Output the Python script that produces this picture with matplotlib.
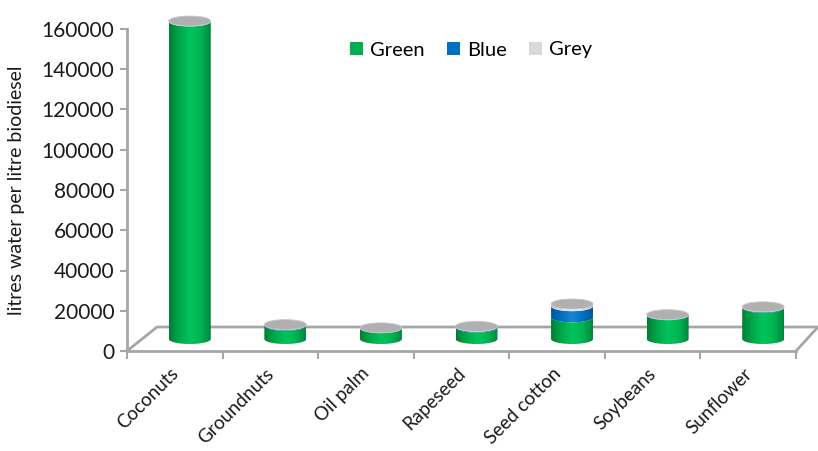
import matplotlib.pyplot as plt
import numpy as np
import matplotlib.transforms as mtransforms
from matplotlib.patches import Polygon, Ellipse, Patch
from matplotlib.colors import LinearSegmentedColormap

# data
crops = ['Coconuts', 'Groundnuts', 'Oil palm', 'Rapeseed', 'Seed cotton', 'Soybeans', 'Sunflower']
green = [157800, 6600, 5450, 5700, 10800, 11850, 15500]
blue = [0, 350, 50, 400, 5500, 200, 350]
grey = [200, 200, 50, 200, 1100, 50, 150]
series_names = ['Green', 'Blue', 'Grey']
yticks = [0, 20000, 40000, 60000, 80000, 100000, 120000, 140000, 160000]

plt.rcParams['font.family'] = ['Lato', 'DejaVu Sans']

fig = plt.figure(figsize=(8.18, 4.51), dpi=100)
W, H = 818, 451
x0, x1, y0, y1 = 127, 796, 351, 29
ax = fig.add_axes([x0 / W, (H - y0) / H, (x1 - x0) / W, (y0 - y1) / H])
ax.set_xlim(-0.5, 6.5)
ax.set_ylim(0, 160000)

# pixel -> data helpers for the fake 3D depth
px_x = 7.0 / (x1 - x0)
px_y = 160000.0 / (y0 - y1)

floor_col = '#a6a6a6'
back_y = 24 * px_y
ax.plot([-0.5, -0.5 + 30 * px_x, 6.5 + 22 * px_x, 6.5], [0, back_y, back_y, 0],
        color=floor_col, lw=2, clip_on=False, zorder=1)

cmaps = {
    'Green': LinearSegmentedColormap.from_list('g', ['#007d37', '#00a84b', '#00c45b', '#00b553', '#00873c']),
    'Blue': LinearSegmentedColormap.from_list('b', ['#00579a', '#006fbe', '#1a86d6', '#0070c0', '#005696']),
    'Grey': LinearSegmentedColormap.from_list('k', ['#bdbdbd', '#dcdcdc', '#f2f2f2', '#e0e0e0', '#bababa']),
}
legend_cols = {'Green': '#00b050', 'Blue': '#0070c0', 'Grey': '#d9d9d9'}

shift = 15 * px_x
half_w = 21 * px_x
ry = 5 * px_y
base = 12 * px_y
t = np.linspace(np.pi, 2 * np.pi, 60)
grad = np.linspace(0, 1, 256).reshape(1, -1)


def lower_half(xc, yc):
    return np.column_stack([xc + half_w * np.cos(t), yc + ry * np.sin(t)])


for i, crop in enumerate(crops):
    xc = i + shift
    bottom = base
    for name, vals in zip(series_names, [green, blue, grey]):
        v = vals[i]
        if v <= 0:
            continue
        top = bottom + v
        pts = np.vstack([lower_half(xc, bottom), lower_half(xc, top)[::-1]])
        poly = Polygon(pts, closed=True, facecolor='none', edgecolor='none', clip_on=False)
        ax.add_patch(poly)
        im = ax.imshow(grad, cmap=cmaps[name], extent=[xc - half_w, xc + half_w, bottom - ry, top + ry],
                       aspect='auto', origin='lower', interpolation='bilinear', zorder=3)
        im.set_clip_box(fig.bbox)
        im.set_clip_path(poly)
        bottom = top
    cap = Ellipse((xc, bottom), 2 * half_w, 2 * ry, facecolor='#b0b0b0', edgecolor='#c8c8c8',
                  lw=0.6, clip_on=False, zorder=4)
    ax.add_patch(cap)

ax.set_xlim(-0.5, 6.5)
ax.set_ylim(0, 160000)

for s in ['top', 'right']:
    ax.spines[s].set_visible(False)
for s in ['left', 'bottom']:
    ax.spines[s].set_color(floor_col)
    ax.spines[s].set_linewidth(2)

ax.set_yticks(yticks)
ax.set_yticklabels([str(v) for v in yticks], fontsize=15, color='#1a1a1a')
ax.tick_params(axis='y', direction='out', length=5, width=1.5, color=floor_col, pad=4)

ax.set_xticks(range(len(crops)))
ax.set_xticklabels(crops, rotation=45, ha='right', rotation_mode='anchor', fontsize=13.5, color='#1a1a1a')
ax.tick_params(axis='x', which='major', length=0, pad=10)
off = mtransforms.ScaledTranslation(-5 / 100, 0, fig.dpi_scale_trans)
for lab in ax.get_xticklabels():
    lab.set_transform(lab.get_transform() + off)
ax.set_xticks(np.arange(-0.5, 7, 1), minor=True)
ax.tick_params(axis='x', which='minor', direction='out', length=6, width=1.5, color=floor_col)

ax.set_ylabel('litres water per litre biodiesel', fontsize=14, color='#1a1a1a')
ax.yaxis.set_label_coords(-0.153, 0.5)

handles = [Patch(facecolor=legend_cols[n], edgecolor='none') for n in series_names]
fig.legend(handles, series_names, loc='center', bbox_to_anchor=(471 / W, 1 - 50 / H), ncol=3,
           frameon=False, fontsize=14.5, handlelength=0.65, handleheight=0.65, handletextpad=0.35,
           columnspacing=1.1)

ax.patch.set_alpha(0)
fig.savefig('out.png', dpi=100)
